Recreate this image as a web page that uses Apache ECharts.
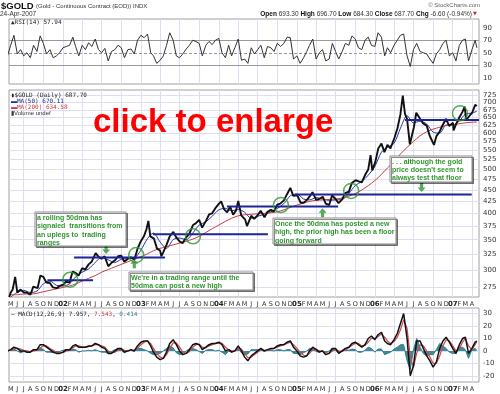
<!DOCTYPE html>
<html><head><meta charset="utf-8">
<script src="https://cdn.jsdelivr.net/npm/echarts@6/dist/echarts.min.js"></script>
<style>html,body{margin:0;padding:0;background:#fff}#c{width:500px;height:394px}</style>
</head><body><div id="c"></div>
<script>
// ---------- DATA ----------
const priceDates = ['2001-04-24','2001-05-01','2001-05-10','2001-05-22','2001-06-01','2001-06-15','2001-07-02','2001-07-16','2001-08-01','2001-08-15','2001-09-04','2001-09-17','2001-10-01','2001-10-15','2001-11-01','2001-11-15','2001-12-03','2001-12-17',
'2002-01-02','2002-01-15','2002-02-01','2002-02-15','2002-03-01','2002-03-15','2002-04-01','2002-04-15','2002-05-01','2002-05-15','2002-06-03','2002-06-17','2002-07-01','2002-07-15','2002-08-01','2002-08-15','2002-09-03','2002-09-16','2002-10-01','2002-10-15','2002-11-01','2002-11-15','2002-12-02','2002-12-16','2002-12-31',
'2003-01-15','2003-01-27','2003-02-05','2003-02-14','2003-03-03','2003-03-17','2003-04-01','2003-04-07','2003-04-15','2003-05-01','2003-05-16','2003-06-02','2003-06-16','2003-07-01','2003-07-15','2003-08-01','2003-08-15','2003-09-02','2003-09-15','2003-10-01','2003-10-15','2003-11-03','2003-11-17','2003-12-01','2003-12-15',
'2004-01-02','2004-01-12','2004-01-26','2004-02-09','2004-02-23','2004-03-08','2004-03-22','2004-04-01','2004-04-15','2004-05-03','2004-05-12','2004-06-01','2004-06-15','2004-07-01','2004-07-15','2004-08-02','2004-08-16','2004-09-01','2004-09-15','2004-10-01','2004-10-15','2004-11-01','2004-11-15','2004-12-01','2004-12-15',
'2005-01-03','2005-01-18','2005-02-01','2005-02-15','2005-03-01','2005-03-15','2005-04-01','2005-04-15','2005-05-02','2005-05-16','2005-06-01','2005-06-15','2005-07-01','2005-07-15','2005-08-01','2005-08-15','2005-09-01','2005-09-15','2005-10-03','2005-10-17','2005-11-01','2005-11-15','2005-12-01','2005-12-12','2005-12-20',
'2006-01-03','2006-01-17','2006-02-01','2006-02-15','2006-03-01','2006-03-15','2006-04-03','2006-04-17','2006-05-01','2006-05-12','2006-05-22','2006-06-01','2006-06-14','2006-07-03','2006-07-14','2006-08-01','2006-08-15','2006-09-01','2006-09-15','2006-10-05','2006-10-16','2006-11-01','2006-11-15','2006-12-01','2006-12-15',
'2007-01-02','2007-01-05','2007-01-16','2007-02-01','2007-02-15','2007-02-26','2007-03-05','2007-03-15','2007-04-02','2007-04-16','2007-04-20','2007-04-24'];
const priceValues = [262,268,272,290,268,272,268,268,265,276,274,292,290,282,281,275,274,277,
279,283,282,298,296,292,303,301,309,313,327,321,318,322,306,311,316,322,323,313,318,320,317,334,347,
356,369,385,356,352,335,331,322,328,341,356,364,354,347,344,354,360,377,380,387,372,386,398,400,410,
420,425,408,402,414,397,406,426,396,388,375,395,389,396,405,392,403,407,404,418,420,427,440,455,437,
438,422,422,427,435,445,428,430,435,420,417,438,430,421,429,443,446,466,473,470,468,484,499,537,497,
518,555,569,545,565,555,586,615,660,725,662,645,567,618,665,645,630,623,592,565,590,605,625,645,622,
632,608,627,650,667,686,640,650,665,692,686,688];

// monthly moving averages (1st of month, May 2001 .. Apr 2007, then last day)
const ma50Values = [262,268,271,268,270,280,284,278,
277,280,290,297,302,312,320,316,312,317,318,319,
332,352,362,346,335,350,353,350,362,377,383,394,
407,410,405,408,402,390,394,398,403,410,420,437,
441,430,428,433,430,427,428,429,442,460,470,485,
507,545,558,570,615,655,632,637,628,603,600,625,
625,638,660,664,670.11];
const ma200Values = [265,265,266,266,267,269,271,273,
275,277,280,284,288,292,297,301,305,309,313,317,
321,326,331,335,338,341,344,347,351,356,363,370,
377,384,390,395,397,398,399,400,401,403,407,412,
417,421,425,427,428,429,430,432,436,442,450,460,
472,487,503,520,540,558,575,592,604,612,618,623,
626,629,632,634,634.58];

// half-monthly oscillators (16 Apr 2001, then 1st/16th of each month, then 24 Apr 2007)
const rsiValues = [45,62,78,48,55,45,50,42,62,52,77,65,48,55,42,45,50,
58,60,62,75,60,45,62,55,66,60,72,55,50,57,37,52,55,62,58,42,55,56,48,70,
78,74,80,50,45,33,38,45,62,82,70,45,42,48,56,62,70,68,65,45,62,68,63,70,
73,50,42,62,45,58,72,38,40,33,58,48,55,62,42,60,58,52,65,60,65,75,74,40,
45,33,42,52,62,72,40,50,55,37,40,65,52,40,52,65,62,77,72,58,55,70,75,62,
60,82,75,45,58,50,62,70,78,80,45,28,55,65,52,50,48,40,33,48,55,65,70,45,
50,37,62,70,72,37,55,70,57.94];
const macdValues = [0,1,3,2,0,0,-1,-1,1,1,5,5,3,1,-1,-2,-2,
-1,1,1,4,5,3,3,3,4,4,6,5,3,2,-2,-2,0,2,2,-1,0,1,0,4,
7,8,8,4,-1,-5,-7,-6,-1,6,9,5,0,-3,-2,1,5,6,5,1,3,5,6,6,
7,5,0,1,-1,0,4,0,-5,-8,-4,-2,0,2,0,1,2,2,4,5,5,7,8,3,
0,-4,-5,-4,0,3,1,-1,0,-3,-2,2,2,-2,0,2,3,6,7,5,3,5,10,12,
9,13,15,8,6,5,9,14,22,30,10,-20,-12,8,8,2,-4,-8,-13,-9,2,8,11,7,
2,-2,5,10,11,-2,2,7,7.957];
const signalValues = [0,0.5,1.5,2,1.5,0.5,0,-0.5,0,0.5,2.5,4,4,2,0.5,-1,-1.5,
-1.5,0,0.5,2.5,4,4,3,3,3.5,4,5,5,4,3,0,-1.5,-1,0.5,1.5,0.5,0,0.5,0.5,2,
5,7,8,6,2,-2,-5,-6,-3,2,6.5,6.5,3,-1,-2,-0.5,3,5,5.5,3,2.5,4,5,6,
6.5,6,3,1,0,0,2,1.5,-2,-5.5,-5,-3,-1,1,0.5,0.5,1.5,2,3,4,5,6,7,5,
2,-1,-3.5,-4,-2,1,1.5,0,0,-1.5,-2,0,1.5,0,-0.5,1,2.5,4.5,6,6,4,4.5,7,10,
10,11.5,13.5,11,8,6,7.5,11,17,25,18,-5,-13,-2,5,4,0,-5,-10,-10,-4,4,9,8,
4,0,2,7,10,4,1,5,7.543];
const histValues = [0,0.5,1.5,0,-1.5,-0.5,-1,-0.5,1,0.5,2.5,1,-1,-1,-1.5,-1,-0.5,
0.5,1,0.5,1.5,1,-1,0,0,0.5,0,1,0,-1,-1,-2,-0.5,1,1.5,0.5,-1.5,0,0.5,-0.5,2,
2,1,0,-2,-3,-3,-2,0,2,4,2.5,-1.5,-3,-2,0,1.5,2,1,-0.5,-2,0.5,1,1,0,
0.5,-1,-3,0,-1,0,2,-1.5,-3,-2.5,1,1,1,1,-0.5,0.5,0.5,0,1,1,0,1,1,-2,
-2,-3,-1.5,0,2,2,-0.5,-1,0,-1.5,0,2,0.5,-2,0.5,1,0.5,1.5,1,-1,-1,0.5,3,2,
-1,1.5,1.5,-3,-2,-1,1.5,3,5,5,-8,-15,1,10,3,-2,-4,-3,-3,1,6,4,2,-1,
-2,-2,3,3,1,-6,1,2,0.414];

// annotation data (date, price)
const supportStart = ['2001-10-20','2002-02-22','2003-02-26','2004-02-08','2004-12-23','2006-05-22'];
const supportEnd   = ['2002-05-22','2003-04-24','2004-08-18','2005-07-13','2007-03-31','2007-05-04'];
const supportLevel = [285,320,360,414,440,641];
const circleDates  = ['2002-02-04','2002-12-10','2003-09-02','2004-10-18','2005-09-12','2007-02-04'];
const circlePrices = [286,324,356,417,448,663];
const downArrowDates = ['2002-07-22','2006-08-08'];
const downArrowPrices = [333,456];
const upArrowDates = ['2002-12-01','2005-05-01'];
const upArrowPrices = [310,401];

const rsiTicks = [10,30,50,70,90];
const priceTicks = [275,300,325,350,375,400,425,450,475,500,525,550,575,600,625,650,675,700,725];
const macdTicks = [-20,-10,0,10,20,30];
const monthLetters = ['J','F','M','A','M','J','J','A','S','O','N','D'];

// ---------- helpers ----------
function ts(s){const p=s.split('-');return Date.UTC(+p[0],+p[1]-1,+p[2]);}
const xMin = ts('2001-04-23'), xMax = ts('2007-05-04');
const monthStarts = [];
for (let y=2001,m=4; y<2007 || (y===2007 && m<=3); ){ monthStarts.push(Date.UTC(y,m,1)); m++; if(m>11){m=0;y++;} }
const maDates = monthStarts.concat([ts('2007-04-24')]);
const halfDates = [ts('2001-04-16')];
monthStarts.forEach(t=>{ const d=new Date(t); halfDates.push(t); halfDates.push(Date.UTC(d.getUTCFullYear(), d.getUTCMonth(), 16)); });
halfDates.push(ts('2007-04-24'));
const gridMonths = monthStarts.filter(t=>{const m=new Date(t).getUTCMonth(); return m%3===0;});

function zip(xs, ys){ return ys.map((v,i)=>[typeof xs[i]==='string'?ts(xs[i]):xs[i], v]); }
const GREEN = '#2f962f', NAVY = '#1d2597', GRIDC = '#dedef0';
const labelFmt = v => { const d=new Date(v), m=d.getUTCMonth(); return m===0 ? '{y|'+String(d.getUTCFullYear()).slice(2)+'}' : monthLetters[m]; };

function xLabelAxis(gi){
  return {type:'value', gridIndex:gi, min:xMin, max:xMax, position:'bottom', scale:true,
    axisLine:{show:false}, axisTick:{show:false, customValues:monthStarts}, splitLine:{show:false},
    axisLabel:{customValues:monthStarts, formatter:labelFmt, fontSize:6.5, color:'#333', margin:4, fontFamily:'DejaVu Sans',
      showMinLabel:true, showMaxLabel:true,
      rich:{y:{fontWeight:'bold', fontSize:7, color:'#222', fontFamily:'DejaVu Sans'}}}};
}
function xGridAxis(gi){
  return {type:'value', gridIndex:gi, min:xMin, max:xMax, position:'top', scale:true,
    axisLine:{show:false}, axisTick:{show:false, customValues:gridMonths}, axisLabel:{show:false, customValues:gridMonths},
    splitLine:{show:true, lineStyle:{color:GRIDC, width:1}}};
}
function yAx(gi, type, min, max, ticks, extra){
  return Object.assign({type:type, gridIndex:gi, min:min, max:max, position:'right',
    axisLine:{show:false}, axisTick:{show:false, customValues:ticks},
    axisLabel:{customValues:ticks, fontSize:7, color:'#333', margin:4, fontFamily:'DejaVu Sans'},
    splitLine:{show:true, lineStyle:{color:GRIDC, width:1}}}, extra||{});
}

const series = [];
// RSI
series.push({type:'line', xAxisIndex:0, yAxisIndex:0, data:zip(halfDates, rsiValues), symbol:'none',
  lineStyle:{color:'#333', width:1}, silent:true, z:5,
  markLine:{silent:true, symbol:'none', label:{show:false},
    data:[{yAxis:70, lineStyle:{color:'#999', width:1, type:'solid'}},
          {yAxis:30, lineStyle:{color:'#999', width:1, type:'solid'}},
          {yAxis:50, lineStyle:{color:'#999', width:1, type:[3,2]}}]}});
// Price
series.push({type:'line', xAxisIndex:1, yAxisIndex:1, data:zip(priceDates, priceValues), symbol:'none',
  lineStyle:{color:'#111', width:1.9}, z:6});
series.push({type:'line', xAxisIndex:1, yAxisIndex:1, data:zip(maDates, ma50Values), symbol:'none', smooth:0.3,
  lineStyle:{color:'#2233aa', width:1}, z:5});
series.push({type:'line', xAxisIndex:1, yAxisIndex:1, data:zip(maDates, ma200Values), symbol:'none', smooth:0.3,
  lineStyle:{color:'#c83c3c', width:1}, z:5});
// support lines
supportLevel.forEach((lv,i)=>{
  series.push({type:'line', xAxisIndex:1, yAxisIndex:1, data:[[ts(supportStart[i]),lv],[ts(supportEnd[i]),lv]],
    symbol:'none', lineStyle:{color:NAVY, width:2}, z:8});
});
// circles
series.push({type:'scatter', xAxisIndex:1, yAxisIndex:1, data:zip(circleDates, circlePrices), symbol:'circle', symbolSize:15,
  itemStyle:{color:'rgba(0,0,0,0)', borderColor:GREEN, borderWidth:1.5}, z:9});
const arrowPath = 'path://M3,0 L7,0 L7,5 L10,5 L5,10 L0,5 L3,5 Z';
series.push({type:'scatter', xAxisIndex:1, yAxisIndex:1, data:zip(downArrowDates, downArrowPrices), symbol:arrowPath, symbolSize:[8,9],
  itemStyle:{color:GREEN}, z:9});
series.push({type:'scatter', xAxisIndex:1, yAxisIndex:1, data:zip(upArrowDates, upArrowPrices), symbol:arrowPath, symbolSize:[8,9], symbolRotate:180,
  itemStyle:{color:GREEN}, z:9});
// MACD
series.push({type:'line', xAxisIndex:3, yAxisIndex:2, data:zip(halfDates, histValues), symbol:'none',
  lineStyle:{color:'#2f7d8c', width:1}, areaStyle:{color:'#2f7d8c', opacity:0.9, origin:0}, z:4});
series.push({type:'line', xAxisIndex:3, yAxisIndex:2, data:zip(halfDates, signalValues), symbol:'none',
  lineStyle:{color:'#d04848', width:1.2}, z:5});
series.push({type:'line', xAxisIndex:3, yAxisIndex:2, data:zip(halfDates, macdValues), symbol:'none',
  lineStyle:{color:'#111', width:1.5}, z:6});

function box(x,y,w,h,lines,lh){
  return {type:'group', children:[
    {type:'rect', shape:{x:x,y:y,width:w,height:h}, style:{fill:'#fff', stroke:'#8a8a8a', lineWidth:1, shadowColor:'rgba(0,0,0,0.45)', shadowOffsetX:1.5, shadowOffsetY:1.5, shadowBlur:0}, z:20},
    {type:'text', x:x+2, y:y+2, style:{text:lines.join('\n'), fill:GREEN, font:'bold 7px "Liberation Sans", Arial', lineHeight:lh, textVerticalAlign:'top'}, z:21}
  ]};
}
const MONO = '"DejaVu Sans Mono", monospace';
const graphics = [
  {type:'text', x:1, y:6, style:{text:'$GOLD', font:'bold 9.5px "Liberation Sans", Arial', fill:'#111', textVerticalAlign:'middle'}},
  {type:'text', x:36, y:6.5, style:{text:'(Gold - Continuous Contract (EOD)) INDX', font:'6px "Liberation Sans", Arial', fill:'#333', textVerticalAlign:'middle'}},
  {type:'text', x:0, y:14, style:{text:'24-Apr-2007', font:'6.5px "Liberation Sans", Arial', fill:'#333', textVerticalAlign:'middle'}},
  {type:'text', x:480, y:5.5, style:{text:'© StockCharts.com', font:'6px "Liberation Sans", Arial', fill:'#666', textAlign:'right', textVerticalAlign:'middle'}},
  {type:'text', x:472, y:14, style:{text:'{b|Open} 693.30 {b|High} 696.70 {b|Low} 684.30 {b|Close} 687.70 {b|Chg} -6.60 (-0.94%)',
     font:'6.5px "Liberation Sans", Arial', fill:'#333', textAlign:'right', textVerticalAlign:'middle',
     rich:{b:{fontWeight:'bold', fill:'#111', fontSize:6.5, fontFamily:'Liberation Sans'}}}},
  {type:'text', x:473, y:14, style:{text:'▼', font:'5px "DejaVu Sans"', fill:'#c03030', textVerticalAlign:'middle'}},
  {type:'text', x:11, y:22.5, style:{text:'▲RSI(14) 57.94', font:'6px '+MONO, fill:'#222', textVerticalAlign:'middle'}, z:10},
  {type:'text', x:11, y:95, style:{text:'▮$GOLD (Daily) 687.70', font:'6px '+MONO, fill:'#222', textVerticalAlign:'middle'}, z:10},
  {type:'text', x:11, y:101, style:{text:'{l|▬}MA(50) 670.11', font:'6px '+MONO, fill:'#1f2a8a', textVerticalAlign:'middle', rich:{l:{fill:'#2233aa', fontSize:6}}}, z:10},
  {type:'text', x:11, y:107, style:{text:'{l|▬}MA(200) 634.58', font:'6px '+MONO, fill:'#c83c3c', textVerticalAlign:'middle', rich:{l:{fill:'#c83c3c', fontSize:6}}}, z:10},
  {type:'text', x:11, y:113, style:{text:'▮Volume undef', font:'6px "Liberation Sans", Arial', fill:'#333', textVerticalAlign:'middle'}, z:10},
  {type:'text', x:11, y:314, style:{text:'— MACD(12,26,9) 7.957, {r|7.543}, {t|0.414}', font:'6px '+MONO, fill:'#222', textVerticalAlign:'middle',
     rich:{r:{fill:'#c83c3c', fontSize:6, fontFamily:'DejaVu Sans Mono'}, t:{fill:'#2f7d8c', fontSize:6, fontFamily:'DejaVu Sans Mono'}}}, z:10},
  {type:'text', x:93, y:139, style:{text:'click to enlarge', font:'bold 33px "Liberation Sans", Arial', fill:'#ff0000', textVerticalAlign:'bottom'}, z:30},
  box(35,212,91,34,['a rolling 50dma has','signaled  transitions from','an uplegs to  trading','ranges'],8.3),
  box(129,272,124,18,["We're in a trading range until the",'50dma can post a new high'],8.3),
  box(273,218,123,26,['Once the 50dma has posted a new','high, the prior high has been a floor','going forward'],8.3),
  box(390,156,82,26,['. . . although the gold',"price doesn't seem to",'always test that floor'],8.1)
];

const chart = echarts.init(document.getElementById('c'), null, {renderer:'canvas'});
chart.setOption({
  animation:false,
  backgroundColor:'#fff',
  grid:[
    {left:9, top:19, width:470, height:65, show:true, borderColor:'#a0a0a0', borderWidth:1, backgroundColor:'transparent'},
    {left:9, top:90, width:470, height:207, show:true, borderColor:'#a0a0a0', borderWidth:1, backgroundColor:'transparent'},
    {left:9, top:308, width:470, height:74, show:true, borderColor:'#a0a0a0', borderWidth:1, backgroundColor:'transparent'}
  ],
  xAxis:[ xGridAxis(0), xLabelAxis(1), xGridAxis(1), xLabelAxis(2), xGridAxis(2) ],
  yAxis:[
    yAx(0,'value',0,104,rsiTicks,{splitLine:{show:false}}),
    yAx(1,'log',262,746,priceTicks,{logBase:10}),
    yAx(2,'value',-25,34.5,macdTicks)
  ],
  series:series,
  graphic:{elements:graphics}
});
</script></body></html>
